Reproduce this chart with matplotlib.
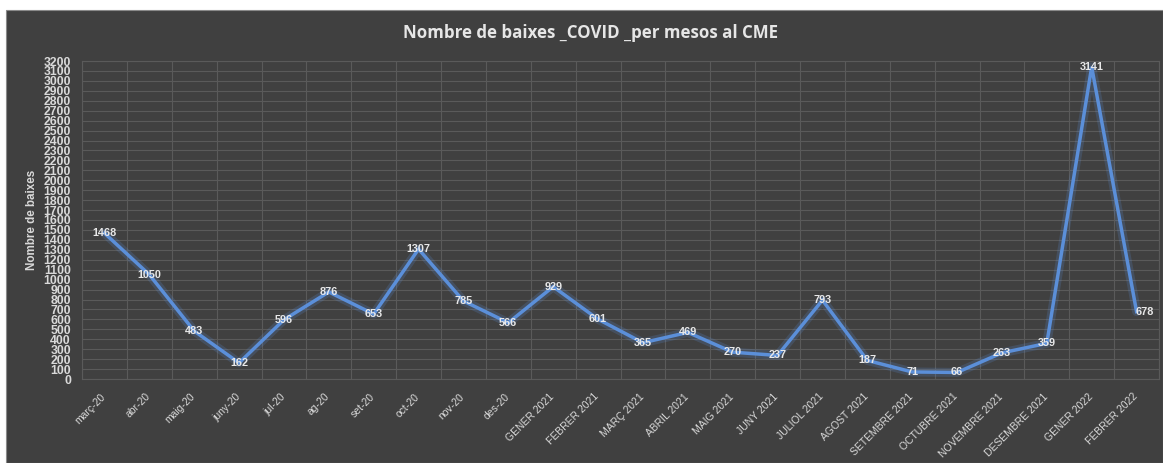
import matplotlib.pyplot as plt
import matplotlib.patches as mpatches
import matplotlib.transforms as mtransforms
import numpy as np

MONTHS = ["març-20", "abr-20", "maig-20", "juny-20", "jul-20", "ag-20", "set-20",
          "oct-20", "nov-20", "des-20", "GENER 2021", "FEBRER 2021", "MARÇ 2021",
          "ABRIL 2021", "MAIG 2021", "JUNY 2021", "JULIOL 2021", "AGOST 2021",
          "SETEMBRE 2021", "OCTUBRE 2021", "NOVEMBRE 2021", "DESEMBRE 2021",
          "GENER 2022", "FEBRER 2022"]
BAIXES = [1468, 1050, 483, 162, 596, 876, 653, 1307, 785, 566, 929, 601, 365,
          469, 270, 237, 793, 187, 71, 66, 263, 359, 3141, 678]
Y_TICKS = list(range(0, 3201, 100))

BG = "#404040"
GRID = "#5a5a5a"
TEXT = "#d9d9d9"
LINE = "#5b8fd9"

W, H = 1163, 463
fig = plt.figure(figsize=(W / 100, H / 100), dpi=100, facecolor="white")

# dark chart area (white margin at top/left like the screenshot)
fig.patches.append(mpatches.Rectangle((6 / W, 0), 1 - 6 / W, 1 - 10 / H,
                                      transform=fig.transFigure, facecolor=BG,
                                      edgecolor="#8a8a8a", linewidth=0.8,
                                      zorder=-10))

ax = fig.add_axes([82 / W, 1 - 379 / H, (1159 - 82) / W, (379 - 61) / H])
ax.set_facecolor(BG)

x = np.arange(len(MONTHS))
# soft glow under the line
ax.plot(x, BAIXES, color=LINE, lw=6.5, alpha=0.2, solid_capstyle="round", zorder=3)
ax.plot(x, BAIXES, color=LINE, lw=2.5, solid_joinstyle="miter", zorder=4)

for i, v in enumerate(BAIXES):
    dx = 8 if i == len(BAIXES) - 1 else 0
    ax.annotate(str(v), (i, v), xytext=(dx, 0), textcoords="offset pixels",
                ha="center", va="center", fontsize=7.8, color="#e8e8e8",
                fontweight="bold", family="Liberation Sans", zorder=5)

ax.set_xlim(-0.5, len(MONTHS) - 0.5)
ax.set_ylim(0, 3200)
ax.set_yticks(Y_TICKS)
ax.set_yticklabels([str(t) for t in Y_TICKS], fontsize=8.8, color=TEXT,
                   fontweight="bold", family="Liberation Sans")
ax.set_xticks(x)
ax.set_xticklabels(MONTHS, rotation=45, ha="right", fontsize=7.5, color=TEXT,
                   family="Liberation Sans")
ax.set_xticks(np.arange(-0.5, len(MONTHS), 1), minor=True)
ax.tick_params(axis="both", which="both", length=0)
ax.tick_params(axis="y", pad=8)
ax.tick_params(axis="x", pad=9)

# nudge the rotated month labels a little to the right
shift = mtransforms.ScaledTranslation(3 / 100, 0, fig.dpi_scale_trans)
for lbl in ax.get_xticklabels():
    lbl.set_transform(lbl.get_transform() + shift)

ax.grid(True, axis="y", which="major", color=GRID, lw=0.8)
ax.grid(True, axis="x", which="minor", color=GRID, lw=0.8)
ax.set_axisbelow(True)
for s in ax.spines.values():
    s.set_color(GRID)
    s.set_linewidth(0.8)

fig.text(32 / W, 1 - 220 / H, "Nombre de baixes", rotation=90, ha="center",
         va="center", fontsize=8.4, color=TEXT, fontweight="bold",
         family="Liberation Sans")

fig.text(591 / W, 1 - 33 / H, "Nombre de baixes _COVID _per mesos al CME",
         ha="center", va="center", fontsize=12.2, fontweight="bold",
         color="#e6e6e6", family="Open Sans")

plt.savefig("out.png", dpi=100, facecolor=fig.get_facecolor())
